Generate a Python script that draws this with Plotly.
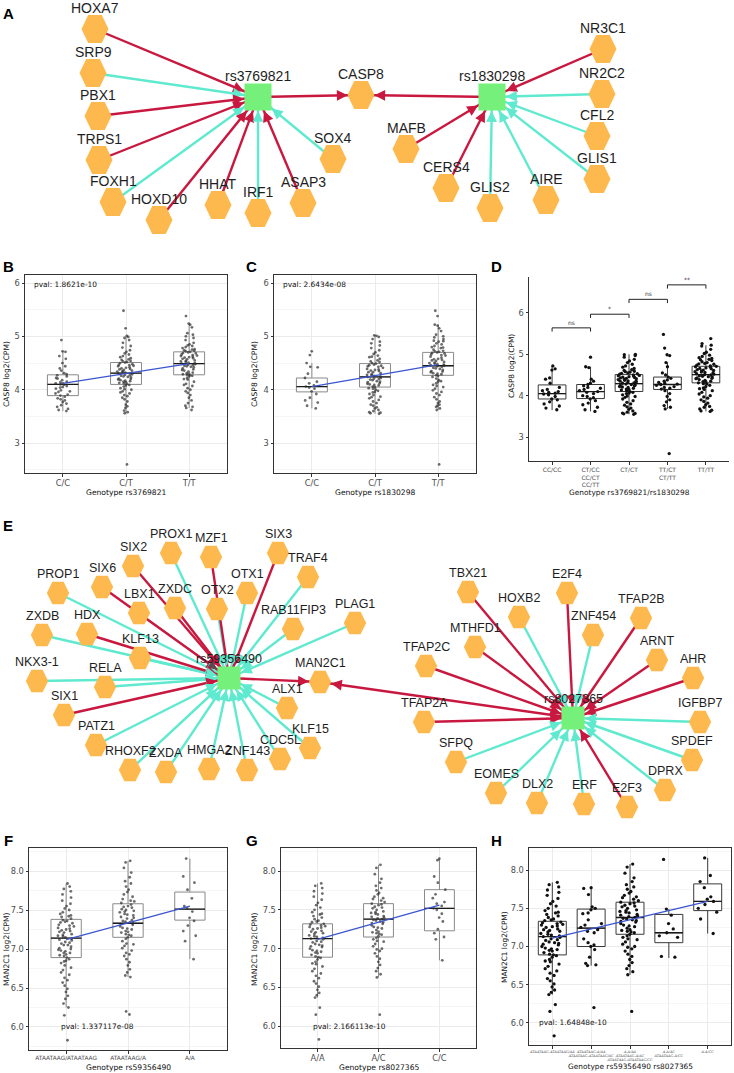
import math
import plotly.graph_objects as go

W, H = 734, 1073
RED = "#c9183f"
TURQ = "#5feacf"
DARK = "#5b4850"
HEX_FILL = "#fdb94e"
SNP_FILL = "#74f07b"
FIT_BLUE = "#3a56d0"
NET_FONT = "Liberation Sans, Arial, sans-serif"
PLOT_FONT = "DejaVu Sans, sans-serif"

# ----------------------------------------------------------------------
# Panel A: regulators of the CASP8 eQTLs (node layout in page pixels)
# ----------------------------------------------------------------------
A_GENES = ["HOXA7", "SRP9", "PBX1", "TRPS1", "FOXH1", "HOXD10", "HHAT", "IRF1", "ASAP3", "SOX4",
           "CASP8", "MAFB", "CERS4", "GLIS2", "AIRE", "GLIS1", "CFL2", "NR2C2", "NR3C1"]
A_GENE_X = [95, 93, 98, 99, 113, 159, 218, 258, 303, 333, 361, 406, 446, 490, 546, 597, 597, 602, 603]
A_GENE_Y = [29, 73, 116, 160, 202, 220, 205, 213, 203, 159, 95, 149, 188, 208, 200, 179, 136, 94, 49]
A_SNPS = ["rs3769821", "rs1830298"]
A_SNP_X = [258, 492]
A_SNP_Y = [97, 97]
A_EDGES = [
    ("HOXA7", "rs3769821", "red"), ("SRP9", "rs3769821", "cyan"), ("PBX1", "rs3769821", "red"),
    ("TRPS1", "rs3769821", "red"), ("FOXH1", "rs3769821", "cyan"), ("HOXD10", "rs3769821", "red"),
    ("HHAT", "rs3769821", "red"), ("IRF1", "rs3769821", "cyan"), ("ASAP3", "rs3769821", "red"),
    ("SOX4", "rs3769821", "cyan"), ("rs3769821", "CASP8", "red"), ("rs1830298", "CASP8", "red"),
    ("NR3C1", "rs1830298", "red"), ("NR2C2", "rs1830298", "cyan"), ("CFL2", "rs1830298", "cyan"),
    ("GLIS1", "rs1830298", "cyan"), ("AIRE", "rs1830298", "cyan"), ("GLIS2", "rs1830298", "cyan"),
    ("CERS4", "rs1830298", "red"), ("MAFB", "rs1830298", "red"),
]

# ----------------------------------------------------------------------
# Panel E: regulators of the MAN2C1 eQTLs
# ----------------------------------------------------------------------
E_GENES = ["PROX1", "MZF1", "SIX3", "TRAF4", "SIX2", "SIX6", "PROP1", "ZXDC", "OTX2", "OTX1",
           "LBX1", "RAB11FIP3", "PLAG1", "ZXDB", "HDX", "KLF13", "NKX3-1", "RELA", "SIX1", "MAN2C1",
           "ALX1", "PATZ1", "KLF15", "CDC5L", "RHOXF2", "ZXDA", "HMGA2", "ZNF143",
           "TBX21", "E2F4", "HOXB2", "TFAP2B", "ZNF454", "MTHFD1", "ARNT", "TFAP2C", "AHR", "TFAP2A",
           "IGFBP7", "SFPQ", "SPDEF", "EOMES", "DPRX", "DLX2", "ERF", "E2F3"]
E_GENE_X = [171, 211, 278, 308, 133, 102, 58, 175, 217, 247,
            139, 293, 355, 42, 87, 140, 37, 105, 64, 320,
            287, 96, 310, 280, 130, 166, 209, 247,
            468, 567, 519, 641, 593, 475, 657, 426, 693, 424,
            700, 456, 692, 496, 665, 537, 584, 627]
E_GENE_Y = [553, 557, 553, 577, 566, 587, 593, 608, 609, 593,
            613, 629, 623, 635, 634, 658, 681, 687, 715, 682,
            708, 745, 748, 759, 770, 772, 769, 770,
            592, 593, 617, 618, 635, 647, 660, 666, 678, 722,
            722, 762, 760, 793, 790, 803, 804, 807]
E_SNPS = ["rs59356490", "rs8027365"]
E_SNP_X = [229, 573]
E_SNP_Y = [678, 718]
E_EDGES = [
    ("PROX1", "rs59356490", "cyan"), ("MZF1", "rs59356490", "red"), ("SIX3", "rs59356490", "red"),
    ("TRAF4", "rs59356490", "cyan"), ("SIX2", "rs59356490", "red"), ("SIX6", "rs59356490", "red"),
    ("PROP1", "rs59356490", "cyan"), ("ZXDC", "rs59356490", "red"), ("OTX2", "rs59356490", "cyan"),
    ("OTX1", "rs59356490", "cyan"), ("LBX1", "rs59356490", "dark"), ("RAB11FIP3", "rs59356490", "cyan"),
    ("PLAG1", "rs59356490", "cyan"), ("ZXDB", "rs59356490", "cyan"), ("HDX", "rs59356490", "red"),
    ("KLF13", "rs59356490", "cyan"), ("NKX3-1", "rs59356490", "cyan"), ("RELA", "rs59356490", "cyan"),
    ("SIX1", "rs59356490", "red"), ("PATZ1", "rs59356490", "cyan"), ("RHOXF2", "rs59356490", "cyan"),
    ("ZXDA", "rs59356490", "cyan"), ("HMGA2", "rs59356490", "cyan"), ("ZNF143", "rs59356490", "cyan"),
    ("CDC5L", "rs59356490", "cyan"), ("KLF15", "rs59356490", "cyan"), ("ALX1", "rs59356490", "cyan"),
    ("rs59356490", "MAN2C1", "red"), ("rs8027365", "MAN2C1", "red"),
    ("TBX21", "rs8027365", "red"), ("E2F4", "rs8027365", "red"), ("HOXB2", "rs8027365", "cyan"),
    ("TFAP2B", "rs8027365", "red"), ("ZNF454", "rs8027365", "cyan"), ("MTHFD1", "rs8027365", "red"),
    ("ARNT", "rs8027365", "red"), ("TFAP2C", "rs8027365", "red"), ("AHR", "rs8027365", "red"),
    ("TFAP2A", "rs8027365", "red"), ("IGFBP7", "rs8027365", "cyan"), ("SFPQ", "rs8027365", "cyan"),
    ("SPDEF", "rs8027365", "cyan"), ("EOMES", "rs8027365", "cyan"), ("DPRX", "rs8027365", "cyan"),
    ("DLX2", "rs8027365", "cyan"), ("ERF", "rs8027365", "cyan"), ("E2F3", "rs8027365", "red"),
]

# ----------------------------------------------------------------------
# Panels B-D: CASP8 expression by genotype
# ----------------------------------------------------------------------
B_CATS = ["C/C", "C/T", "T/T"]
B_LO = [3.60, 3.56, 3.66]
B_Q1 = [3.89, 4.10, 4.28]
B_MED = [4.10, 4.31, 4.49]
B_Q3 = [4.28, 4.51, 4.71]
B_HI = [4.72, 5.01, 5.24]
B_FIT = [4.12, 4.49]
B_PTS_CC = [4.93, 4.72, 4.71, 4.63, 4.58, 4.50, 4.44, 4.40, 4.36, 4.31, 4.29, 4.27, 4.25, 4.22, 4.21,
            4.18, 4.15, 4.14, 4.12, 4.12, 4.10, 4.09, 4.07, 4.05, 4.04, 4.02, 3.99, 3.97, 3.96, 3.93,
            3.91, 3.89, 3.87, 3.84, 3.82, 3.80, 3.77, 3.74, 3.71, 3.68, 3.64, 3.62, 3.60]
B_PTS_CT = [5.48, 5.15, 5.01, 4.99, 4.97, 4.93, 4.88, 4.82, 4.79, 4.74, 4.71, 4.68, 4.66, 4.63, 4.61,
            4.59, 4.56, 4.54, 4.53, 4.51, 4.50, 4.48, 4.47, 4.45, 4.44, 4.42, 4.40, 4.39, 4.37, 4.35,
            4.33, 4.32, 4.31, 4.30, 4.28, 4.26, 4.25, 4.23, 4.21, 4.20, 4.18, 4.16, 4.14, 4.12, 4.11,
            4.09, 4.06, 4.03, 4.00, 3.97, 3.93, 3.90, 3.85, 3.82, 3.78, 3.72, 3.69, 3.66, 3.61, 3.58,
            3.56, 2.60, 4.57, 4.46, 4.38, 4.34, 4.29, 4.24, 4.17, 4.13, 4.08, 4.01, 3.95, 3.88, 4.52,
            4.41, 4.36, 4.27, 4.19, 4.15]
B_PTS_TT = [5.38, 5.24, 5.22, 5.17, 5.06, 5.03, 5.00, 4.97, 4.93, 4.88, 4.85, 4.82, 4.80, 4.78, 4.76,
            4.74, 4.72, 4.71, 4.70, 4.68, 4.66, 4.65, 4.63, 4.62, 4.60, 4.58, 4.57, 4.55, 4.53, 4.52,
            4.50, 4.49, 4.48, 4.46, 4.44, 4.42, 4.40, 4.38, 4.36, 4.34, 4.32, 4.30, 4.29, 4.27, 4.25,
            4.22, 4.19, 4.15, 4.11, 4.07, 4.03, 4.00, 3.97, 3.94, 3.90, 3.85, 3.80, 3.75, 3.70, 3.66,
            3.62, 3.68, 4.83, 4.75, 4.69, 4.64, 4.59, 4.54, 4.47, 4.43, 4.37, 4.31, 4.26, 4.20, 4.09,
            4.73, 4.61, 4.51, 4.45, 4.28]

C_CATS = ["C/C", "C/T", "T/T"]
C_LO = [3.65, 3.55, 3.62]
C_Q1 = [3.96, 4.05, 4.27]
C_MED = [4.06, 4.24, 4.45]
C_Q3 = [4.22, 4.49, 4.70]
C_HI = [4.50, 5.02, 5.22]
C_FIT = [4.06, 4.47]
C_PTS_CC = [4.72, 4.65, 4.50, 4.43, 4.42, 4.30, 4.22, 4.15, 4.12, 4.08, 4.06, 4.04, 4.02, 3.97, 3.92,
            3.85, 3.80, 3.76, 3.70, 3.65]
C_PTS_CT = [5.02, 5.01, 4.99, 4.95, 4.90, 4.87, 4.83, 4.78, 4.74, 4.70, 4.67, 4.64, 4.61, 4.58, 4.55,
            4.53, 4.50, 4.49, 4.47, 4.45, 4.43, 4.41, 4.39, 4.37, 4.35, 4.33, 4.31, 4.29, 4.27, 4.25,
            4.24, 4.22, 4.20, 4.18, 4.16, 4.14, 4.12, 4.10, 4.08, 4.06, 4.05, 4.02, 4.00, 3.98, 3.95,
            3.92, 3.90, 3.87, 3.84, 3.81, 3.78, 3.75, 3.72, 3.70, 3.67, 3.65, 3.62, 3.60, 3.58, 3.57,
            3.55, 3.56, 4.62, 4.52, 4.46, 4.38, 4.33, 4.26, 4.21, 4.15, 4.09, 4.03, 3.96, 3.86, 4.44,
            4.36, 4.28, 4.19, 4.11]
C_PTS_TT = [5.48, 5.38, 5.22, 5.20, 5.15, 5.10, 5.03, 5.00, 4.98, 4.95, 4.92, 4.90, 4.87, 4.85, 4.82,
            4.80, 4.78, 4.75, 4.73, 4.71, 4.70, 4.68, 4.66, 4.64, 4.62, 4.60, 4.58, 4.56, 4.54, 4.52,
            4.50, 4.48, 4.46, 4.45, 4.43, 4.41, 4.39, 4.37, 4.35, 4.33, 4.31, 4.29, 4.27, 4.24, 4.21,
            4.18, 4.15, 4.12, 4.09, 4.05, 4.02, 3.99, 3.96, 3.93, 3.90, 3.86, 3.82, 3.78, 3.75, 3.72,
            3.70, 3.68, 3.65, 3.62, 2.60, 4.44, 4.91, 4.79, 4.72, 4.65, 4.57, 4.51, 4.47, 4.40, 4.34,
            4.30, 4.26, 4.16, 4.07, 4.69, 4.55, 4.49]

D_CATS = ["CC/CC", "CT/CC<br>CC/CT<br>CC/TT", "CT/CT", "TT/CT<br>CT/TT", "TT/TT"]
D_LO = [3.65, 3.62, 3.55, 3.68, 3.62]
D_Q1 = [3.92, 3.93, 4.10, 4.15, 4.31]
D_MED = [4.05, 4.10, 4.29, 4.27, 4.51]
D_Q3 = [4.26, 4.27, 4.51, 4.45, 4.71]
D_HI = [4.72, 4.70, 5.00, 4.80, 5.22]
D_PTS_0 = [4.72, 4.65, 4.62, 4.43, 4.40, 4.30, 4.20, 4.15, 4.10, 4.08, 4.06, 4.04, 4.02, 3.98, 3.92,
           3.90, 3.85, 3.80, 3.75, 3.70, 3.66, 4.12]
D_PTS_1 = [4.93, 4.70, 4.68, 4.40, 4.35, 4.30, 4.27, 4.24, 4.20, 4.15, 4.12, 4.10, 4.08, 4.05, 4.00,
           3.98, 3.95, 3.92, 3.88, 3.82, 3.78, 3.72, 3.66, 3.62, 4.18]
D_PTS_2 = [5.00, 4.99, 4.97, 4.93, 4.88, 4.84, 4.80, 4.76, 4.72, 4.69, 4.66, 4.63, 4.61, 4.59, 4.57,
           4.55, 4.53, 4.52, 4.50, 4.49, 4.47, 4.46, 4.44, 4.42, 4.41, 4.39, 4.37, 4.35, 4.33, 4.31,
           4.30, 4.28, 4.26, 4.24, 4.22, 4.20, 4.18, 4.16, 4.14, 4.12, 4.10, 4.08, 4.05, 4.02, 3.99,
           3.96, 3.92, 3.88, 3.84, 3.80, 3.77, 3.73, 3.70, 3.67, 3.63, 3.60, 3.58, 3.56, 3.55, 3.57,
           4.45, 4.35, 4.58, 4.48, 4.40, 4.32, 4.27, 4.21, 4.15, 4.06, 3.98, 4.54, 4.43, 4.36, 4.25]
D_PTS_3 = [5.48, 5.15, 4.99, 4.97, 4.80, 4.70, 4.55, 4.50, 4.45, 4.42, 4.38, 4.35, 4.32, 4.30, 4.28,
           4.27, 4.25, 4.22, 4.20, 4.18, 4.16, 4.12, 4.05, 3.98, 3.90, 3.85, 3.76, 3.72, 3.68, 2.60]
D_PTS_4 = [5.38, 5.26, 5.22, 5.20, 5.12, 5.05, 5.02, 4.98, 4.95, 4.92, 4.90, 4.87, 4.85, 4.82, 4.80,
           4.78, 4.76, 4.74, 4.72, 4.70, 4.69, 4.67, 4.65, 4.63, 4.61, 4.60, 4.58, 4.56, 4.55, 4.53,
           4.51, 4.50, 4.48, 4.46, 4.45, 4.43, 4.41, 4.39, 4.37, 4.35, 4.33, 4.31, 4.28, 4.25, 4.22,
           4.19, 4.15, 4.12, 4.08, 4.04, 4.00, 3.97, 3.94, 3.90, 3.86, 3.82, 3.78, 3.74, 3.72, 3.68,
           3.65, 3.63, 3.62, 4.62, 4.88, 4.77, 4.71, 4.66, 4.57, 4.52, 4.47, 4.42, 4.34, 4.29, 4.17]
D_PAIRS = [(0, 1), (1, 2), (2, 3), (3, 4)]
D_PAIR_Y = [5.64, 5.97, 6.33, 6.68]
D_PAIR_SIG = ["ns", "*", "ns", "**"]

# ----------------------------------------------------------------------
# Panels F-H: MAN2C1 expression by genotype
# ----------------------------------------------------------------------
F_CATS = ["ATAATAAG/ATAATAAG", "ATAATAAG/A", "A/A"]
F_LO = [6.25, 6.64, 6.87]
F_Q1 = [6.89, 7.15, 7.37]
F_MED = [7.14, 7.33, 7.51]
F_Q3 = [7.38, 7.58, 7.73]
F_HI = [7.84, 8.13, 8.16]
F_FIT = [7.12, 7.55]
F_PTS_0 = [7.84, 7.80, 7.77, 7.74, 7.70, 7.66, 7.62, 7.58, 7.55, 7.52, 7.50, 7.47, 7.45, 7.43, 7.41,
           7.39, 7.37, 7.35, 7.33, 7.31, 7.29, 7.27, 7.25, 7.23, 7.21, 7.19, 7.17, 7.15, 7.13, 7.11,
           7.09, 7.07, 7.05, 7.03, 7.01, 6.99, 6.97, 6.95, 6.93, 6.91, 6.89, 6.87, 6.85, 6.82, 6.79,
           6.76, 6.73, 6.70, 6.67, 6.63, 6.60, 6.57, 6.53, 6.49, 6.45, 6.40, 6.36, 6.30, 6.25, 6.15,
           5.83, 7.26, 7.05, 6.95, 7.42, 7.36, 7.30, 7.22, 7.18, 7.12, 7.08, 7.00, 6.92, 6.84, 7.34,
           7.24, 7.16, 6.98]
F_PTS_1 = [8.13, 8.11, 8.04, 7.98, 7.92, 7.87, 7.84, 7.80, 7.76, 7.73, 7.70, 7.67, 7.64, 7.61, 7.59,
           7.57, 7.55, 7.53, 7.51, 7.49, 7.47, 7.45, 7.43, 7.41, 7.39, 7.37, 7.35, 7.33, 7.31, 7.29,
           7.27, 7.25, 7.23, 7.21, 7.19, 7.17, 7.15, 7.13, 7.10, 7.07, 7.04, 7.01, 6.98, 6.95, 6.91,
           6.87, 6.83, 6.79, 6.74, 6.70, 6.66, 6.64, 6.20, 6.16, 7.48, 7.36, 7.22, 7.40, 7.62, 7.54,
           7.44, 7.32, 7.26, 7.18, 7.06, 6.93, 7.50, 7.34]
F_PTS_2 = [8.16, 7.93, 7.85, 7.76, 7.65, 7.55, 7.52, 7.48, 7.40, 7.36, 7.30, 7.23, 7.17, 7.10, 6.87]

G_CATS = ["A/A", "A/C", "C/C"]
G_LO = [6.37, 6.63, 6.85]
G_Q1 = [6.89, 7.15, 7.23]
G_MED = [7.13, 7.38, 7.52]
G_Q3 = [7.32, 7.58, 7.76]
G_HI = [7.84, 8.08, 8.16]
G_FIT = [7.12, 7.56]
G_PTS_0 = [7.84, 7.81, 7.78, 7.74, 7.71, 7.67, 7.63, 7.59, 7.56, 7.53, 7.50, 7.47, 7.45, 7.42, 7.40,
           7.38, 7.36, 7.34, 7.32, 7.30, 7.29, 7.27, 7.25, 7.23, 7.21, 7.19, 7.17, 7.15, 7.13, 7.12,
           7.10, 7.08, 7.06, 7.04, 7.02, 7.00, 6.98, 6.96, 6.94, 6.92, 6.90, 6.88, 6.86, 6.83, 6.80,
           6.77, 6.74, 6.71, 6.68, 6.65, 6.62, 6.58, 6.55, 6.51, 6.47, 6.43, 6.40, 6.37, 6.24, 6.15,
           5.83, 7.28, 7.16, 6.97, 7.44, 7.35, 7.26, 7.20, 7.14, 7.09, 7.03, 6.95, 6.89, 6.81, 7.31,
           7.22, 7.05]
G_PTS_1 = [8.08, 8.04, 7.96, 7.90, 7.85, 7.81, 7.78, 7.75, 7.72, 7.70, 7.67, 7.64, 7.62, 7.60, 7.58,
           7.56, 7.54, 7.52, 7.50, 7.48, 7.46, 7.44, 7.42, 7.40, 7.38, 7.36, 7.34, 7.32, 7.30, 7.28,
           7.26, 7.24, 7.22, 7.20, 7.18, 7.16, 7.14, 7.12, 7.09, 7.06, 7.03, 7.00, 6.97, 6.94, 6.90,
           6.87, 6.83, 6.79, 6.75, 6.71, 6.67, 6.63, 6.15, 7.45, 7.39, 7.33, 7.19, 7.57, 7.65, 7.53,
           7.47, 7.41, 7.35, 7.27, 7.21, 7.10, 6.99, 7.37]
G_PTS_2 = [8.16, 8.14, 7.93, 7.85, 7.76, 7.65, 7.60, 7.55, 7.52, 7.50, 7.45, 7.40, 7.35, 7.25, 7.20,
           7.15, 7.12, 6.85, 7.58, 7.70]

H_CATS = ["<i>ATAATAAG-ATAATAAG/AA</i>",
          "<i>ATAATAAG-A/AA<br>ATAATAAG-ATAATAAG/AC</i>",
          "<i>A-A/AA<br>ATAATAAG-A/AC<br>ATAATAAG-ATAATAAG/CC</i>",
          "<i>A-A/AC<br>ATAATAAG-A/CC</i>",
          "<i>A-A/CC</i>"]
H_LO = [6.37, 6.75, 6.63, 6.85, 7.17]
H_Q1 = [6.89, 7.00, 7.16, 7.05, 7.47]
H_MED = [7.13, 7.24, 7.38, 7.18, 7.59]
H_Q3 = [7.33, 7.49, 7.58, 7.42, 7.82]
H_HI = [7.84, 7.76, 8.08, 7.49, 8.16]
H_FIT = [7.11, 7.59]
H_PTS_1 = [7.77, 7.76, 7.68, 7.52, 7.50, 7.44, 7.43, 7.30, 7.28, 7.25, 7.22, 7.20, 7.18, 7.10, 7.05,
           7.02, 7.00, 6.96, 6.86, 6.78, 6.76, 6.75, 6.20, 7.35, 7.48]
H_PTS_3 = [8.14, 7.49, 7.41, 7.23, 7.18, 7.14, 7.12, 6.87, 6.86, 7.30]
H_PTS_4 = [8.16, 7.93, 7.85, 7.77, 7.65, 7.59, 7.55, 7.50, 7.45, 7.36, 7.17, 7.62]


def hex_path(cx, cy, w, h):
    pts = [(cx - w, cy), (cx - w / 2, cy - h), (cx + w / 2, cy - h),
           (cx + w, cy), (cx + w / 2, cy + h), (cx - w / 2, cy + h)]
    return "M" + " L".join(f"{x:.1f},{y:.1f}" for x, y in pts) + " Z"


def draw_network(fig, genes, gx, gy, snps, sx, sy, edges, hw, hh, sq, lab_off, fsize):
    pos = {n: (x, y, "hex") for n, x, y in zip(genes, gx, gy)}
    pos.update({n: (x, y, "sq") for n, x, y in zip(snps, sx, sy)})
    colors = {"red": RED, "cyan": TURQ, "dark": DARK}
    widths = {"red": 2.4, "cyan": 2.4, "dark": 1.2}
    for key in ("cyan", "dark", "red"):
        lx, ly = [], []
        for s, t, c in edges:
            if c == key:
                lx += [pos[s][0], pos[t][0], None]
                ly += [pos[s][1], pos[t][1], None]
        if lx:
            fig.add_trace(go.Scatter(x=lx, y=ly, mode="lines", hoverinfo="skip",
                                     line=dict(color=colors[key], width=widths[key])))
    # arrowheads at the target node border
    for s, t, c in edges:
        x0, y0, _ = pos[s]
        x1, y1, kind = pos[t]
        L = math.hypot(x1 - x0, y1 - y0)
        ux, uy = (x1 - x0) / L, (y1 - y0) / L
        if kind == "sq":
            d = sq / max(abs(ux), abs(uy))
        else:
            d = 0.95 / math.sqrt((ux / hw) ** 2 + (uy / hh) ** 2)
        tail = d + 10
        fig.add_annotation(x=x1, y=y1, ax=x1 - ux * tail, ay=y1 - uy * tail,
                           xref="x", yref="y", axref="x", ayref="y", text="",
                           showarrow=True, arrowhead=2, arrowsize=0.9,
                           arrowwidth=max(widths[c], 2.0), arrowcolor=colors[c], standoff=d + 0.5)
    for n, x, y in zip(genes, gx, gy):
        fig.add_shape(type="path", path=hex_path(x, y, hw, hh), xref="x", yref="y",
                      fillcolor=HEX_FILL, line=dict(width=0), layer="above")
    for n, x, y in zip(snps, sx, sy):
        fig.add_shape(type="rect", x0=x - sq, x1=x + sq, y0=y - sq, y1=y + sq, xref="x", yref="y",
                      fillcolor=SNP_FILL, line=dict(width=0), layer="above")
    for n, x, y in list(zip(genes, gx, gy)) + list(zip(snps, sx, sy)):
        fig.add_annotation(x=x, y=y - lab_off, text=n, showarrow=False, xref="x", yref="y",
                           xanchor="center", yanchor="middle",
                           font=dict(family=NET_FONT, size=fsize, color="#1e1e1e"))


def add_text(fig, xpx, ypx, text, size, angle=0, bold=False, family=PLOT_FONT, color="#111111"):
    fig.add_annotation(x=xpx / W, y=1 - ypx / H, xref="paper", yref="paper",
                       text=f"<b>{text}</b>" if bold else text, xanchor="center", yanchor="middle",
                       showarrow=False, textangle=angle, font=dict(family=family, size=size, color=color))


def box_panel(fig, k, xdom, ydom, yrange, cats, lo, q1, med, q3, hi, groups, fit, pval,
              theme, dtick, mdtick, xtick_font, ytick_fmt=None):
    xa, ya = f"x{k}", f"y{k}"
    n = len(cats)
    classic = theme == "classic"
    bw = 0.72 if n == 5 else 0.49
    pw = 0.6 if n == 5 else 0.28
    box_line = "#3a3a3a" if classic or n == 5 else "#8a8a8a"
    pt_color = "#111111" if (classic or n == 5) else "rgba(45,45,45,0.7)"
    pt_size = 3.3 if (classic or n == 5) else 2.8
    for i in range(n):
        common = dict(x=[i], xaxis=xa, yaxis=ya, width=bw, whiskerwidth=0, boxpoints=False,
                      hoverinfo="skip", showlegend=False)
        fig.add_trace(go.Box(q1=[q1[i]], median=[med[i]], q3=[q3[i]], lowerfence=[lo[i]],
                             upperfence=[hi[i]], fillcolor="white",
                             line=dict(color=box_line, width=1), **common))
        fig.add_trace(go.Box(q1=[med[i]], median=[med[i]], q3=[med[i]], lowerfence=[med[i]],
                             upperfence=[med[i]], fillcolor="rgba(0,0,0,0)",
                             line=dict(color="#1a1a1a", width=1.3), **common))
    for i, vals in enumerate(groups):
        fig.add_trace(go.Box(x=[i] * len(vals), y=vals, xaxis=xa, yaxis=ya, width=pw,
                             boxpoints="all", jitter=1, pointpos=0, whiskerwidth=0,
                             fillcolor="rgba(0,0,0,0)", line=dict(width=0, color="rgba(0,0,0,0)"),
                             marker=dict(size=pt_size, color=pt_color), hoverinfo="skip",
                             showlegend=False))
    if fit:
        fig.add_trace(go.Scatter(x=[0, n - 1], y=fit, xaxis=xa, yaxis=ya, mode="lines",
                                 line=dict(color=FIT_BLUE, width=1.2), hoverinfo="skip"))
    if pval:
        fig.add_annotation(x=pval[0], y=pval[1], xref=xa, yref=ya, text=pval[2], showarrow=False,
                           xanchor="left", yanchor="middle",
                           font=dict(family=PLOT_FONT, size=7.4, color="#111111"))
    axis_common = dict(showline=True, linecolor="#333333", linewidth=1, ticks="outside",
                       ticklen=2.5, tickcolor="#333333", zeroline=False, fixedrange=True)
    fig.layout[f"xaxis{k}"] = dict(
        domain=[xdom[0] / W, xdom[1] / W], range=[-0.6, n - 0.4], anchor=ya,
        tickvals=list(range(n)), ticktext=cats, tickangle=0, mirror=not classic,
        showgrid=not classic, gridcolor="#ebebeb", gridwidth=0.8,
        tickfont=xtick_font, **axis_common)
    yax = dict(domain=[1 - ydom[1] / H, 1 - ydom[0] / H], range=yrange, anchor=xa,
               dtick=dtick, tick0=0, mirror=not classic, showgrid=not classic,
               gridcolor="#ebebeb", gridwidth=0.8,
               tickfont=dict(family=PLOT_FONT, size=8.3, color="#4d4d4d"), **axis_common)
    if not classic:
        yax["minor"] = dict(dtick=mdtick, tick0=0, showgrid=True, gridcolor="#f6f6f6", gridwidth=0.6)
    if ytick_fmt:
        yax["tickformat"] = ytick_fmt
    fig.layout[f"yaxis{k}"] = yax


fig = go.Figure()
fig.update_layout(
    width=W, height=H, margin=dict(l=0, r=0, t=0, b=0), showlegend=False,
    paper_bgcolor="white", plot_bgcolor="white", boxmode="overlay",
    xaxis=dict(domain=[0, 1], range=[0, W], visible=False, fixedrange=True),
    yaxis=dict(domain=[0, 1], range=[H, 0], visible=False, fixedrange=True),
)

draw_network(fig, A_GENES, A_GENE_X, A_GENE_Y, A_SNPS, A_SNP_X, A_SNP_Y, A_EDGES,
             hw=13.5, hh=14, sq=13.5, lab_off=21, fsize=14)
draw_network(fig, E_GENES, E_GENE_X, E_GENE_Y, E_SNPS, E_SNP_X, E_SNP_Y, E_EDGES,
             hw=11.2, hh=11.2, sq=11.5, lab_off=19, fsize=12.5)

tick8 = dict(family=PLOT_FONT, size=8.3, color="#4d4d4d")
box_panel(fig, 2, (25, 227), (275, 473), [2.44, 6.15], B_CATS, B_LO, B_Q1, B_MED, B_Q3, B_HI,
          [B_PTS_CC, B_PTS_CT, B_PTS_TT], B_FIT, (-0.49, 5.98, "pval: 1.8621e-10"),
          "bw", 1, 0.5, tick8)
box_panel(fig, 3, (274, 476), (275, 473), [2.44, 6.15], C_CATS, C_LO, C_Q1, C_MED, C_Q3, C_HI,
          [C_PTS_CC, C_PTS_CT, C_PTS_TT], C_FIT, (-0.49, 5.98, "pval: 2.6434e-08"),
          "bw", 1, 0.5, tick8)
box_panel(fig, 4, (529, 729), (277, 461), [2.42, 6.87], D_CATS, D_LO, D_Q1, D_MED, D_Q3, D_HI,
          [D_PTS_0, D_PTS_1, D_PTS_2, D_PTS_3, D_PTS_4], None, None,
          "classic", 1, 0.5, dict(family=PLOT_FONT, size=6.0, color="#4d4d4d"))
box_panel(fig, 5, (29, 227), (848, 1050), [5.705, 8.295], F_CATS, F_LO, F_Q1, F_MED, F_Q3, F_HI,
          [F_PTS_0, F_PTS_1, F_PTS_2], F_FIT, (-0.12, 6.0, "pval: 1.337117e-08"),
          "bw", 0.5, 0.25, dict(family=PLOT_FONT, size=5.8, color="#4d4d4d"), ".1f")
box_panel(fig, 6, (281, 476), (848, 1048), [5.72, 8.297], G_CATS, G_LO, G_Q1, G_MED, G_Q3, G_HI,
          [G_PTS_0, G_PTS_1, G_PTS_2], G_FIT, (-0.1, 6.0, "pval: 2.166113e-10"),
          "bw", 0.5, 0.25, tick8, ".1f")
box_panel(fig, 7, (529, 731), (848, 1045), [5.71, 8.29], H_CATS, H_LO, H_Q1, H_MED, H_Q3, H_HI,
          [G_PTS_0, H_PTS_1, G_PTS_1, H_PTS_3, H_PTS_4], H_FIT, (-0.4, 6.0, "pval: 1.64848e-10"),
          "bw", 0.5, 0.25, dict(family="DejaVu Serif, serif", size=3.4, color="#4d4d4d"), ".1f")

# significance brackets in D
for (a, b), yv, sig in zip(D_PAIRS, D_PAIR_Y, D_PAIR_SIG):
    fig.add_trace(go.Scatter(x=[a, a, b, b], y=[yv - 0.09, yv, yv, yv - 0.09], xaxis="x4", yaxis="y4",
                             mode="lines", line=dict(color="#222222", width=1), opacity=1,
                             hoverinfo="skip"))
    fig.add_annotation(x=(a + b) / 2, y=yv, xref="x4", yref="y4", text=sig, showarrow=False,
                       xanchor="center", yanchor="bottom",
                       font=dict(family=PLOT_FONT, size=6, color="#333333"))

# axis titles
add_text(fig, 126, 492, "Genotype rs3769821", 7.6)
add_text(fig, 7, 374, "CASP8 log2(CPM)", 7.6, angle=-90)
add_text(fig, 375, 492, "Genotype rs1830298", 7.6)
add_text(fig, 255, 374, "CASP8 log2(CPM)", 7.6, angle=-90)
add_text(fig, 629, 493, "Genotype rs3769821/rs1830298", 7.4)
add_text(fig, 512, 366, "CASP8 log2(CPM)", 7.4, angle=-90)
add_text(fig, 128, 1067, "Genotype rs59356490", 7.6)
add_text(fig, 6, 949, "MAN2C1 log2(CPM)", 7.6, angle=-90)
add_text(fig, 379, 1067, "Genotype rs8027365", 7.6)
add_text(fig, 254, 949, "MAN2C1 log2(CPM)", 7.6, angle=-90)
add_text(fig, 630, 1066, "Genotype rs59356490 rs8027365", 7.4)
add_text(fig, 504, 947, "MAN2C1 log2(CPM)", 7.4, angle=-90)

# panel letters
for letter, xp, yp in [("A", 8, 14), ("B", 8, 266), ("C", 251, 266), ("D", 497, 266),
                       ("E", 8, 525), ("F", 8, 840), ("G", 252, 840), ("H", 497, 840)]:
    add_text(fig, xp, yp, letter, 15, bold=True, family=NET_FONT, color="#000000")

# the page body has a default 8px margin; drop it so the figure fills the window exactly
fig.write_html("out.html", config={"displayModeBar": False},
               post_script="document.body.style.margin='0px';")
